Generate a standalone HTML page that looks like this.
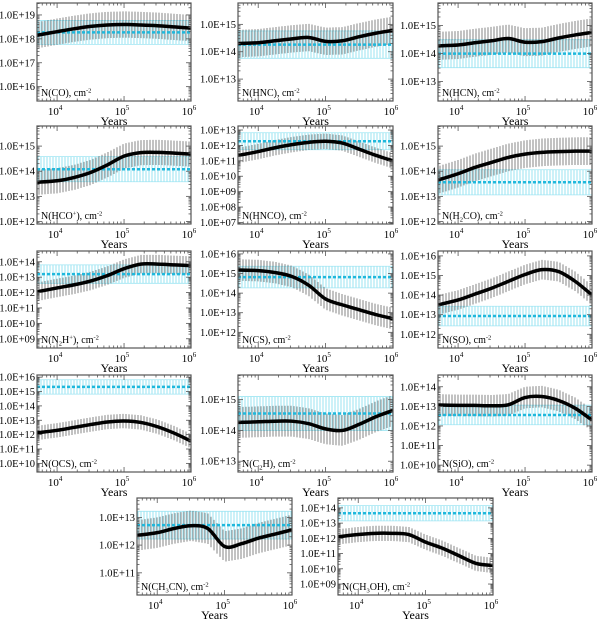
<!DOCTYPE html>
<html><head><meta charset="utf-8">
<style>
html,body{margin:0;padding:0;background:#fff;}
svg{display:block;font-family:"Liberation Serif","Times New Roman","DejaVu Serif",serif;}
svg text{font-family:"Liberation Serif","Times New Roman","DejaVu Serif",serif !important;}
</style></head>
<body>
<svg id="fig" width="600" height="621" viewBox="0 0 600 621" xmlns="http://www.w3.org/2000/svg"></svg>
<script>
// shared time grid (log10 years)
const logYears = [3.7, 4, 4.25, 4.5, 4.75, 5, 5.25, 5.5, 5.75, 6];
// model log10 column densities
const coModel    = [18.15,18.3,18.42,18.52,18.58,18.6,18.58,18.55,18.5,18.45];
const hncModel   = [14.3,14.33,14.4,14.47,14.52,14.38,14.4,14.55,14.68,14.78];
const hcnModel   = [14.27,14.3,14.38,14.45,14.53,14.4,14.42,14.55,14.66,14.75];
const hcopModel  = [13.56,13.62,13.75,13.95,14.25,14.6,14.74,14.75,14.72,14.68];
const hncoModel  = [11.35,11.6,11.85,12.05,12.2,12.27,12.15,11.75,11.35,11.0];
const h2coModel  = [13.65,13.9,14.15,14.35,14.55,14.68,14.75,14.78,14.8,14.8];
const n2hpModel  = [12.05,12.3,12.5,12.75,13.1,13.55,13.85,13.85,13.8,13.75];
const csModel    = [15.18,15.15,15.05,14.85,14.4,13.7,13.4,13.15,12.9,12.7];
const soModel    = [13.5,13.75,14.05,14.35,14.7,15.05,15.3,15.2,14.7,14.0];
const ocsModel   = [12.12,12.3,12.5,12.7,12.88,12.95,12.85,12.55,12.1,11.55];
const c2hModel   = [14.26,14.28,14.3,14.3,14.22,14.05,14.0,14.2,14.45,14.65];
const sioModel   = [13.07,13.05,13.05,13.03,13.08,13.45,13.5,13.3,12.9,12.3];
const ch3cnModel = [12.35,12.45,12.6,12.7,12.6,11.95,12.05,12.25,12.4,12.55];
const ch3ohModel = [12.1,12.25,12.33,12.33,12.25,11.75,11.35,10.85,10.35,10.22];
// observed log10 values (same species order)
const obsValues = [18.27,14.26,13.99,14.08,12.27,13.56,13.2,14.82,12.93,15.32,14.55,12.56,12.72,13.65];
// observed uncertainty (dex)
const obsErrors = [0.5,0.5,0.5,0.5,0.55,0.5,0.6,0.55,0.5,0.5,0.55,0.5,0.5,0.5];
// model uncertainty (dex)
const modelErrors = [0.55,0.5,0.5,0.5,0.5,0.55,0.6,0.55,0.5,0.5,0.5,0.55,0.55,0.5];

const models = [coModel,hncModel,hcnModel,hcopModel,hncoModel,h2coModel,n2hpModel,csModel,soModel,ocsModel,c2hModel,sioModel,ch3cnModel,ch3ohModel];
const labels = [
 [["N(CO), cm",""],["-2","sup"]],
 [["N(HNC), cm",""],["-2","sup"]],
 [["N(HCN), cm",""],["-2","sup"]],
 [["N(HCO",""],["+","sup"],["), cm",""],["-2","sup"]],
 [["N(HNCO), cm",""],["-2","sup"]],
 [["N(H",""],["2","sub"],["CO), cm",""],["-2","sup"]],
 [["N(N",""],["2","sub"],["H",""],["+","sup"],["), cm",""],["-2","sup"]],
 [["N(CS), cm",""],["-2","sup"]],
 [["N(SO), cm",""],["-2","sup"]],
 [["N(OCS), cm",""],["-2","sup"]],
 [["N(C",""],["2","sub"],["H), cm",""],["-2","sup"]],
 [["N(SiO), cm",""],["-2","sup"]],
 [["N(CH",""],["3","sub"],["CN), cm",""],["-2","sup"]],
 [["N(CH",""],["3","sub"],["OH), cm",""],["-2","sup"]]
];
const names = ["co","hnc","hcn","hcop","hnco","h2co","n2hp","cs","so","ocs","c2h","sio","ch3cn","ch3oh"];
// panel geometry [left, top, right, bottom] and y-range
const boxes = [[37,3,191,101],[238,3,393,101],[438,3,592,101],
 [37,126,191,224],[238,126,393,224],[438,126,592,224],
 [37,251,191,348],[238,251,393,348],[438,251,592,348],
 [37,375,191,472],[238,375,393,472],[438,375,592,472],
 [137,498,292,595],[338,498,493,595]];
const yRanges = [[15.4,19.5],[12.2,15.78],[12.3,15.8],[11.9,15.8],[6.9,13.26],[11.9,15.8],[8.4,14.7],[11.2,16.15],[11.3,16.25],[9.4,16.15],[12.65,15.8],[9.65,14.6],[10.2,13.7],[8.28,14.65]];
const xMin = 3.7, xMax = 6.0;

const NS = "http://www.w3.org/2000/svg";
const svg = document.getElementById('fig');
const FF = '"Liberation Serif","Times New Roman","DejaVu Serif",serif';
function mk(tag, attrs, parent){
  const e = document.createElementNS(NS, tag);
  for (const k in attrs) e.setAttribute(k, attrs[k]);
  (parent||svg).appendChild(e);
  return e;
}
function interp(arr, lx){
  if (lx <= logYears[0]) return arr[0];
  for (let i=1;i<logYears.length;i++){
    if (lx <= logYears[i]){
      const f=(lx-logYears[i-1])/(logYears[i]-logYears[i-1]);
      return arr[i-1]+f*(arr[i]-arr[i-1]);
    }
  }
  return arr[arr.length-1];
}

for (let p=0;p<models.length;p++){
  const [L,T,R,B] = boxes[p];
  const [y0,y1] = yRanges[p];
  const xs = v => L + (v-xMin)/(xMax-xMin)*(R-L);
  const ys = v => B - (v-y0)/(y1-y0)*(B-T);
  const g = mk('g', {});
  
  
  const clipId = 'clip'+p;
  const cp = mk('clipPath', {id:clipId}, g);
  mk('rect', {x:L,y:T,width:R-L,height:B-T}, cp);
  const plot = mk('g', {'clip-path':'url(#'+clipId+')'}, g);

  const ob = obsValues[p], oe = obsErrors[p];
  const band = mk('g', {stroke:'#8fe0f0','stroke-width':0.9}, plot);
  
  
  for (let x=L+1; x<R; x+=3){
    mk('line',{x1:x,x2:x,y1:ys(ob+oe),y2:ys(ob-oe)},band);
  }
  mk('line',{x1:L,x2:R,y1:ys(ob+oe),y2:ys(ob+oe),stroke:'#9fe6f3','stroke-width':0.8},plot);
  mk('line',{x1:L,x2:R,y1:ys(ob-oe),y2:ys(ob-oe),stroke:'#9fe6f3','stroke-width':0.8},plot);

  const m = models[p], me = modelErrors[p];
  const eb = mk('g', {stroke:'#222','stroke-width':0.55}, plot);
  
  
  for (let x=L+2; x<R; x+=3){
    const lx = xMin + (x-L)/(R-L)*(xMax-xMin);
    const v = interp(m, lx);
    mk('line',{x1:x,x2:x,y1:ys(v+me),y2:ys(v-me)},eb);
  }
  const od = mk('line',{x1:L,x2:R,y1:ys(ob),y2:ys(ob),stroke:'#1fb8dc','stroke-width':2.5,'stroke-dasharray':'3,2'},plot);
  
  

  const pts = logYears.map((t,i)=>[xs(t), ys(m[i])]);
  let d = 'M'+pts[0][0]+','+pts[0][1];
  for (let i=0;i<pts.length-1;i++){
    const p0=pts[Math.max(0,i-1)], p1=pts[i], p2=pts[i+1], p3=pts[Math.min(pts.length-1,i+2)];
    const c1=[p1[0]+(p2[0]-p0[0])/6, p1[1]+(p2[1]-p0[1])/6];
    const c2=[p2[0]-(p3[0]-p1[0])/6, p2[1]-(p3[1]-p1[1])/6];
    d += ' C'+c1[0]+','+c1[1]+' '+c2[0]+','+c2[1]+' '+p2[0]+','+p2[1];
  }
  const mc = mk('path',{d:d,fill:'none',stroke:'#000','stroke-width':3.5},plot);
  
  

  const tk = mk('g',{stroke:'#555','stroke-width':0.8},g);
  for (let dec=3; dec<=6; dec++){
    for (let k=1;k<=9;k++){
      const lv = dec+Math.log10(k);
      if (lv < xMin-1e-9 || lv > xMax+1e-9) continue;
      const x = xs(lv), len = k===1?5:2.5;
      mk('line',{x1:x,x2:x,y1:B,y2:B-len},tk);
      mk('line',{x1:x,x2:x,y1:T,y2:T+len},tk);
    }
  }
  for (let dec=Math.floor(y0); dec<=Math.ceil(y1); dec++){
    for (let k=1;k<=9;k++){
      const lv = dec+Math.log10(k);
      if (lv < y0 || lv > y1) continue;
      const y = ys(lv), len = k===1?5:2.5;
      mk('line',{x1:L,x2:L+len,y1:y,y2:y},tk);
      mk('line',{x1:R,x2:R-len,y1:y,y2:y},tk);
    }
  }
  const fr = mk('rect',{x:L,y:T,width:R-L,height:B-T,fill:'none',stroke:'#555','stroke-width':1.2},g);
  
  

  for (let dec=Math.ceil(y0); dec<=Math.floor(y1); dec++){
    const t = mk('text',{x:L-2,y:ys(dec)+3.5,'text-anchor':'end','font-size':10.5,'font-family':FF,fill:'#000'},g);
    t.textContent = '1.0E' + (dec>=0?'+':'-') + String(Math.abs(dec)).padStart(2,'0');
    
    
  }
  for (let dec=4; dec<=6; dec++){
    const t = mk('text',{x:xs(dec)-2,y:B+14,'text-anchor':'middle','font-size':11,'font-family':FF,fill:'#000'},g);
    
    
    t.appendChild(document.createTextNode('10'));
    const s = mk('tspan',{'font-size':7,dy:-5},t);
    s.textContent = String(dec);
  }
  const xt = mk('text',{x:(L+R)/2,y:B+24,'text-anchor':'middle','font-size':12,'font-family':FF,fill:'#000'},g);
  xt.textContent = 'Years';
  
  

  const lab = mk('text',{x:L+4,y:B-5,'font-size':10,'font-family':FF,fill:'#000'},g);
  
  
  let shift = 0;
  for (const [txt,kind] of labels[p]){
    const ts = mk('tspan',{},lab);
    let target = kind==='sup'?-3.5:(kind==='sub'?2.5:0);
    ts.setAttribute('dy', target-shift);
    shift = target;
    if (kind) ts.setAttribute('font-size', 6.5);
    ts.textContent = txt;
  }
}
</script>
</body></html>
